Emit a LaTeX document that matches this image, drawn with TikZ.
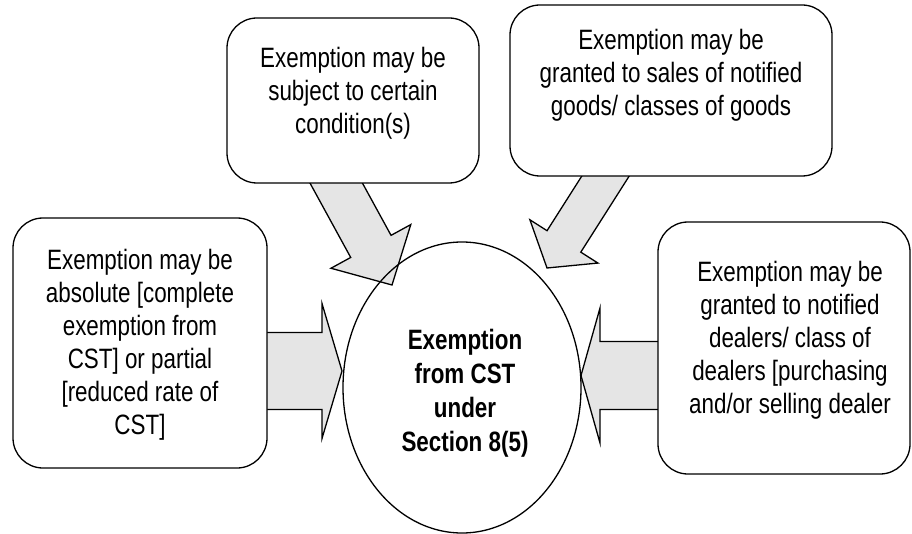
\documentclass[tikz,border=0pt]{standalone}
\usepackage{fontspec}
\setmainfont{Liberation Sans}[FakeStretch=0.8]
\usetikzlibrary{shapes.geometric,calc}
\definecolor{arrowgray}{RGB}{229,229,229}

\tikzset{
  infobox/.style={draw, line width=1.3pt, rounded corners=30pt, fill=white, inner sep=0pt},
  infotext/.style={align=center, font=\fontsize{28}{33}\selectfont, inner sep=0pt},
  blockarrow/.style={draw, line width=1.3pt, fill=arrowgray, line join=miter},
  centre/.style={draw, line width=1.3pt, ellipse, inner sep=0pt},
}

% Block arrow from #1 to the tip #2: shaft half width #3, head half width #4, head length #5
\newcommand\blockarrowpath[5]{%
  \path ($(#2)!#5!(#1)$) coordinate (headbase);
  \draw[blockarrow]
    ($(#1)!#3!90:(#2)$) -- ($(headbase)!#3!90:(#2)$) -- ($(headbase)!#4!90:(#2)$)
    -- (#2)
    -- ($(headbase)!#4!-90:(#2)$) -- ($(headbase)!#3!-90:(#2)$) -- ($(#1)!#3!-90:(#2)$) -- cycle;
}

\begin{document}
\begin{tikzpicture}[x=1pt, y=-1pt]
  \useasboundingbox (0,0) rectangle (912,534);

  % arrow ends
  \coordinate (tlFrom) at (329.6,171);
  \coordinate (tlTo)   at (392,285);
  \coordinate (trFrom) at (616.8,158.3);
  \coordinate (trTo)   at (547,268);
  \coordinate (lFrom)  at (255,371);
  \coordinate (lTo)    at (342,371);
  \coordinate (rFrom)  at (670,375.5);
  \coordinate (rTo)    at (581,375.5);

  % block arrows pointing at the centre
  \blockarrowpath{tlFrom}{tlTo}{23pt}{45.5pt}{44pt}
  \blockarrowpath{trFrom}{trTo}{20pt}{40.3pt}{31.5pt}
  \blockarrowpath{lFrom}{lTo}{38.5pt}{67.5pt}{20pt}
  \blockarrowpath{rFrom}{rTo}{34pt}{67.5pt}{19pt}

  % rounded boxes
  \node[infobox, minimum width=254pt, minimum height=250pt] (lbox)  at (140,343)   {};
  \node[infobox, minimum width=252pt, minimum height=165pt] (tlbox) at (353,100.5) {};
  \node[infobox, minimum width=322pt, minimum height=171pt] (trbox) at (671,90.5)  {};
  \node[infobox, minimum width=252pt, minimum height=252pt] (rbox)  at (784,348)   {};

  % central ellipse
  \node[centre, minimum width=238pt, minimum height=291pt] (ell) at (462,387.5) {};

  % texts
  \node[infotext] (ltext) at (140,345)
    {Exemption may be\\absolute [complete\\exemption from\\CST] or partial\\{[}reduced rate of\\CST]};
  \node[infotext] (tltext) at (353,93)
    {Exemption may be\\subject to certain\\condition(s)};
  \node[infotext] (trtext) at (671,75)
    {Exemption may be\\granted to sales of notified\\goods/ classes of goods};
  \node[infotext] (rtext) at (790,340)
    {Exemption may be\\granted to notified\\dealers/ class of\\dealers [purchasing\\and/or selling dealer};
  \node[infotext, font=\bfseries\fontsize{28}{34}\selectfont] (etext) at (465,393.5)
    {Exemption\\from CST\\under\\Section 8(5)};
\end{tikzpicture}
\end{document}
